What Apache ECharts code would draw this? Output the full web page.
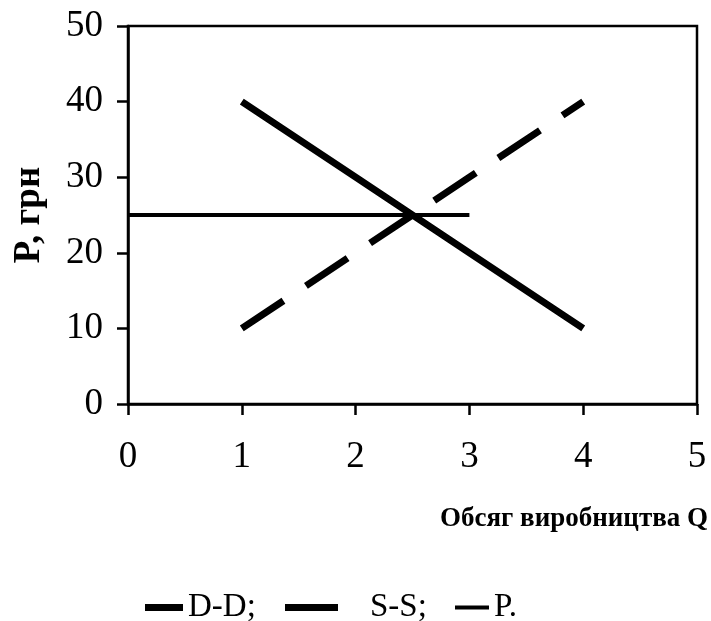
<!DOCTYPE html>
<html>
<head>
<meta charset="utf-8">
<script src="https://cdn.jsdelivr.net/npm/echarts@6/dist/echarts.min.js"></script>
<style>html,body{margin:0;padding:0;background:#fff;}#c{width:711px;height:621px;}</style>
</head>
<body>
<div id="c"></div>
<script>
const qDD = [1, 2, 3, 4];
const pDD = [40, 30, 20, 10];
const qSS = [1, 2, 3, 4];
const pSS = [10, 20, 30, 40];
const qP = [0, 1, 2, 3];
const pP = [25, 25, 25, 25];
const seriesNames = ['D-D;', 'S-S;', 'P.'];
const xTitle = 'Обсяг виробництва Q';
const yTitle = 'P, грн';

const zip = (a, b) => a.map((v, i) => [v, b[i]]);
const font = '"Liberation Serif", "Times New Roman", serif';
const legendText = { color: '#000', fontFamily: font, fontSize: 33 };

const chart = echarts.init(document.getElementById('c'));
chart.setOption({
  animation: false,
  backgroundColor: '#fff',
  grid: { left: 128, right: 14, top: 26, bottom: 217, show: true, borderColor: '#000', borderWidth: 2.5 },
  title: {
    text: xTitle, right: 3, top: 506, padding: 0,
    textStyle: { fontFamily: font, fontWeight: 'bold', fontSize: 27, color: '#000' }
  },
  xAxis: {
    type: 'value', min: 0, max: 5, interval: 1,
    axisLine: { show: true, lineStyle: { color: '#000', width: 2.5 } },
    axisTick: { show: true, length: 11, lineStyle: { color: '#000', width: 2.5 } },
    axisLabel: { color: '#000', fontFamily: font, fontSize: 37, margin: 35 },
    splitLine: { show: false }
  },
  yAxis: {
    type: 'value', min: 0, max: 50, interval: 10,
    name: yTitle, nameLocation: 'middle', nameGap: 80, nameRotate: 90,
    nameTextStyle: { color: '#000', fontFamily: font, fontWeight: 'bold', fontSize: 37 },
    axisLine: { show: true, lineStyle: { color: '#000', width: 2.5 } },
    axisTick: { show: true, length: 11, lineStyle: { color: '#000', width: 2.5 } },
    axisLabel: { color: '#000', fontFamily: font, fontSize: 37, margin: 25 },
    splitLine: { show: false }
  },
  legend: [
    { left: 140, top: 586, itemWidth: 38, itemHeight: 7, icon: 'rect',
      textStyle: Object.assign({ padding: [0, 0, 0, 0] }, legendText), data: [seriesNames[0]] },
    { left: 280, top: 586, itemWidth: 53, itemHeight: 7, icon: 'rect',
      textStyle: Object.assign({ padding: [0, 0, 0, 27] }, legendText), data: [seriesNames[1]] },
    { left: 450, top: 586, itemWidth: 34, itemHeight: 4, icon: 'rect',
      textStyle: Object.assign({ padding: [0, 0, 0, 0] }, legendText), data: [seriesNames[2]] }
  ],
  series: [
    { name: seriesNames[0], type: 'line', data: zip(qDD, pDD), symbol: 'none', color: '#000',
      lineStyle: { color: '#000', width: 7 } },
    { name: seriesNames[1], type: 'line', data: zip(qSS, pSS), symbol: 'none', color: '#000',
      lineStyle: { color: '#000', width: 7, type: [50, 27] } },
    { name: seriesNames[2], type: 'line', data: zip(qP, pP), symbol: 'none', color: '#000',
      lineStyle: { color: '#000', width: 4 } }
  ]
});
</script>
</body>
</html>
